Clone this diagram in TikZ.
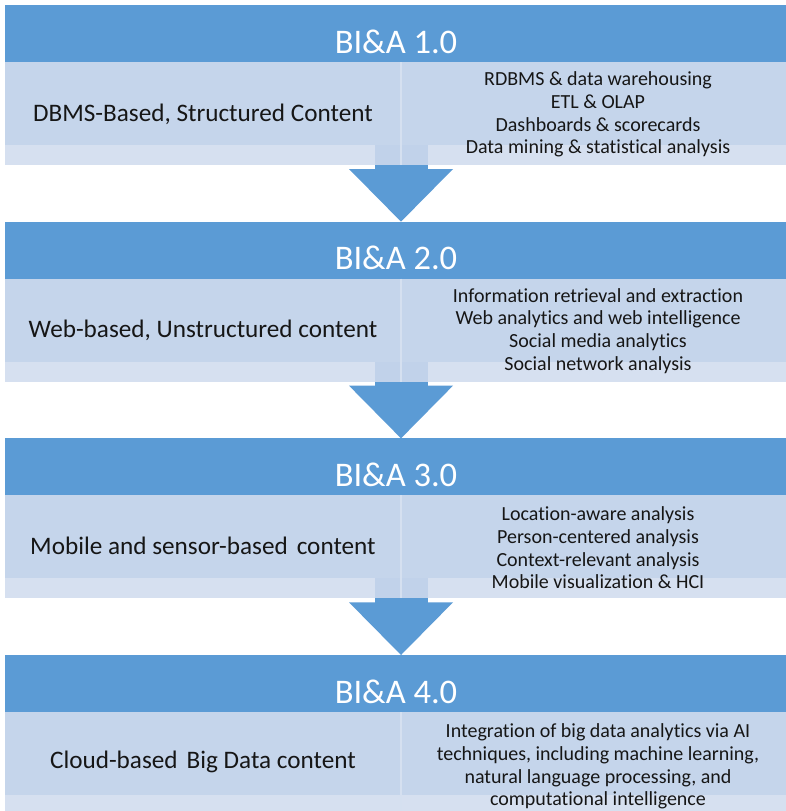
\documentclass[tikz,border=0pt]{standalone}
\usepackage{fontspec}
\setmainfont{Carlito}[Ligatures=NoCommon]
\definecolor{hdr}{HTML}{5B9BD5}
\definecolor{band}{HTML}{C5D5EB}
\definecolor{lite}{HTML}{D6E0F0}
\definecolor{divc}{HTML}{D5E0F0}
\definecolor{stemc}{HTML}{C1D2EA}
\definecolor{txt}{HTML}{161616}
\begin{document}
\begin{tikzpicture}[x=1pt,y=-1pt,
  hdrtext/.style={text=white,font=\fontsize{34.5}{40}\selectfont,anchor=base,inner sep=0},
  lefttext/.style={text=txt,font=\fontsize{25.2}{30}\selectfont,anchor=base,inner sep=0},
  righttext/.style={text=txt,font=\fontsize{20}{22.7}\selectfont,align=center,inner sep=0,anchor=center}]
\useasboundingbox (0,0) rectangle (786,811);
\fill[white] (0,0) rectangle (786,811);
\foreach \i/\T in {1/5,2/221.67,3/438.33,4/655}{
  \fill[hdr] (5,\T) rectangle (786,\T+57);
  \fill[band] (5,\T+57) rectangle (786,\T+140);
  \ifnum\i<4
    \fill[lite] (5,\T+140) rectangle (374.5,\T+160);
    \fill[lite] (427.5,\T+140) rectangle (786,\T+160);
    \fill[stemc] (374.5,\T+140) rectangle (427.5,\T+160);
    \fill[hdr] (374.5,\T+160) rectangle (427.5,\T+164.5);
    \fill[hdr] (349,\T+164) -- (453,\T+164) -- (401,\T+216.67) -- cycle;
  \else
    \fill[lite] (5,\T+140) rectangle (786,\T+160);
  \fi
  \draw[divc,line width=1.2pt] (401,\T+57) -- (401,\T+160);
  \node[hdrtext] (h\i) at (396,\T+48) {BI\&A \i.0};
}
\node[lefttext] (l1) at (203,121) {DBMS-Based, Structured Content};
\node[lefttext] (l2) at (203,337.67) {Web-based, Unstructured content};
\node[lefttext] (l3) at (203,554.33) {Mobile and sensor-based\hspace{9pt}content};
\node[lefttext] (l4) at (203,768.5) {Cloud-based\hspace{9pt}Big Data content};
\node[righttext] (r1) at (598,114.5) {RDBMS \& data warehousing\\ETL \& OLAP\\Dashboards \& scorecards\\Data mining \& statistical analysis};
\node[righttext] (r2) at (598,331) {Information retrieval and extraction\\Web analytics and web intelligence\\Social media analytics\\Social network analysis};
\node[righttext] (r3) at (598,547.8) {Location-aware analysis\\Person-centered analysis\\Context-relevant analysis\\Mobile visualization \& HCI};
\node[righttext] (r4) at (598,766.5) {Integration of big data analytics via AI\\techniques, including machine learning,\\natural language processing, and\\computational intelligence};
\end{tikzpicture}
\end{document}
